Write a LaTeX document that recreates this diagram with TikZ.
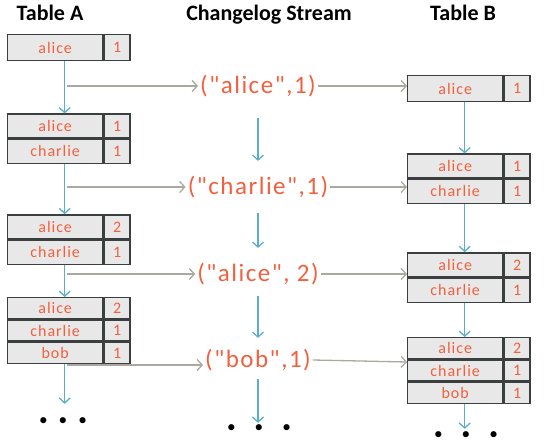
\documentclass[tikz,border=0pt]{standalone}
\usepackage{fontspec}
\setmainfont{Carlito}
\newfontfamily\logfont{Carlito}[Ligatures=TeXOff]
\usepackage{tikz}
\usetikzlibrary{arrows.meta, calc, positioning}
\definecolor{cellfill}{HTML}{E8E8E8}
\definecolor{cellline}{HTML}{3B3F40}
\definecolor{entry}{HTML}{F2603E}
\definecolor{linkblue}{HTML}{5AAEC8}
\definecolor{feedgray}{HTML}{A9A9A2}
\tikzstyle{title} = [font=\fontsize{22}{24}\selectfont\bfseries, text=black, anchor=base]
\tikzstyle{namecell} = [rectangle, draw=cellline, line width=1.4pt, fill=cellfill, minimum width=95pt, minimum height=24pt, inner sep=0pt, text=entry, font=\fontsize{16}{17}\selectfont\addfontfeature{LetterSpace=6}]
\tikzstyle{countcell} = [namecell, minimum width=26pt]
\tikzstyle{change} = [text=entry, font=\logfont\fontsize{25}{28}\selectfont\addfontfeature{LetterSpace=6}, inner sep=2pt]
\tikzstyle{link} = [draw=linkblue, line width=1.3pt, -{Straight Barb[length=5pt,width=11pt]}]
\tikzstyle{feed} = [draw=feedgray, line width=1.3pt, -{Straight Barb[length=5pt,width=11pt]}]
\tikzstyle{dots} = [font=\LARGE, inner sep=0pt]

\begin{document}
\begin{tikzpicture}[x=1pt, y=1pt]
		\useasboundingbox (0,0) rectangle (549,-444);
		\node (TitleA) [title] at (50,-21) {Table A};
		\node (TitleLog) [title] at (269,-21) {Changelog Stream};
		\node (TitleB) [title] at (463,-21) {Table B};

		% Table A
		\node (A1Row1) [namecell, anchor=north west, minimum height=26pt] at (7,-34) {alice};
		\node (A1Cnt1) [countcell, right = 0pt of A1Row1, minimum height=26pt] {1};
		\node (A2Row1) [namecell, below = 52pt of A1Row1] {alice};
		\node (A2Cnt1) [countcell, right = 0pt of A2Row1] {1};
		\node (A2Row2) [namecell, below = 0pt of A2Row1] {charlie};
		\node (A2Cnt2) [countcell, right = 0pt of A2Row2] {1};
		\node (A3Row1) [namecell, below = 50pt of A2Row2] {alice};
		\node (A3Cnt1) [countcell, right = 0pt of A3Row1] {2};
		\node (A3Row2) [namecell, below = 0pt of A3Row1] {charlie};
		\node (A3Cnt2) [countcell, right = 0pt of A3Row2] {1};
		\node (A4Row1) [namecell, below = 32pt of A3Row2, minimum height=21pt] {alice};
		\node (A4Cnt1) [countcell, right = 0pt of A4Row1, minimum height=21pt] {2};
		\node (A4Row2) [namecell, below = 0pt of A4Row1, minimum height=21pt] {charlie};
		\node (A4Cnt2) [countcell, right = 0pt of A4Row2, minimum height=21pt] {1};
		\node (A4Row3) [namecell, below = 0pt of A4Row2, minimum height=21pt] {bob};
		\node (A4Cnt3) [countcell, right = 0pt of A4Row3, minimum height=21pt] {1};
		\node (DotsA) [dots] at (63,-422) {\textbullet\hspace{11pt}\textbullet\hspace{11pt}\textbullet};
		\coordinate (LinkA) at ([xshift=9.5pt]A1Row1.south);

		% Changelog Stream
		\node (Change1) [change] at (258,-86) {("alice",1)};
		\node (Change2) [change, on grid, below = 101pt of Change1] {("charlie",1)};
		\node (Change3) [change, on grid, below = 87pt of Change2] {("alice", 2)};
		\node (Change4) [change, on grid, below = 86pt of Change3] {("bob",1)};
		\node (DotsC) [dots] at (259,-429) {\textbullet\hspace{19pt}\textbullet\hspace{19pt}\textbullet};

		% Table B
		\node (B1Row1) [namecell, anchor=north west, minimum height=26pt] at (407,-75) {alice};
		\node (B1Cnt1) [countcell, right = 0pt of B1Row1, minimum height=26pt] {1};
		\node (B2Row1) [namecell, below = 51pt of B1Row1] {alice};
		\node (B2Cnt1) [countcell, right = 0pt of B2Row1] {1};
		\node (B2Row2) [namecell, below = 0pt of B2Row1] {charlie};
		\node (B2Cnt2) [countcell, right = 0pt of B2Row2] {1};
		\node (B3Row1) [namecell, below = 48pt of B2Row2] {alice};
		\node (B3Cnt1) [countcell, right = 0pt of B3Row1] {2};
		\node (B3Row2) [namecell, below = 0pt of B3Row1] {charlie};
		\node (B3Cnt2) [countcell, right = 0pt of B3Row2] {1};
		\node (B4Row1) [namecell, below = 34pt of B3Row2, minimum height=21pt] {alice};
		\node (B4Cnt1) [countcell, right = 0pt of B4Row1, minimum height=21pt] {2};
		\node (B4Row2) [namecell, below = 0pt of B4Row1, minimum height=21pt] {charlie};
		\node (B4Cnt2) [countcell, right = 0pt of B4Row2, minimum height=21pt] {1};
		\node (B4Row3) [namecell, below = 0pt of B4Row2, minimum height=21pt] {bob};
		\node (B4Cnt3) [countcell, right = 0pt of B4Row3, minimum height=21pt] {1};
		\node (DotsB) [dots] at (466,-436) {\textbullet\hspace{19pt}\textbullet\hspace{19pt}\textbullet};

		% links down each column
		\draw [link] ([xshift=9.5pt]A1Row1.south) -- ([xshift=9.5pt]A2Row1.north);
		\draw [link] ([xshift=9.5pt]A2Row2.south) -- ([xshift=9.5pt]A3Row1.north);
		\draw [link] ([xshift=9.5pt]A3Row2.south) -- ([xshift=9.5pt]A4Row1.north);
		\draw [link, shorten >=14pt] ([xshift=9.5pt]A4Row3.south) -- ([xshift=9.5pt]A4Row3.south |- DotsA.north);
		\draw [link, shorten <=19pt, shorten >=13pt] (Change1) -- (Change2);
		\draw [link, shorten <=13pt, shorten >=13pt] (Change2) -- (Change3);
		\draw [link, shorten <=9pt, shorten >=9pt] (Change3) -- (Change4);
		\draw [link, shorten <=6pt, shorten >=2pt] (Change4) -- (Change4 |- DotsC.north);
		\draw [link] ([xshift=9.5pt]B1Row1.south) -- ([xshift=9.5pt]B2Row1.north);
		\draw [link] ([xshift=9.5pt]B2Row2.south) -- ([xshift=9.5pt]B3Row1.north);
		\draw [link] ([xshift=9.5pt]B3Row2.south) -- ([xshift=9.5pt]B4Row1.north);
		\draw [link, shorten >=3pt] ([xshift=9.5pt]B4Row3.south) -- ([xshift=9.5pt]B4Row3.south |- DotsB.north);

		% changes fed out of A and into B
		\draw [feed, shorten <=2pt] (Change1 -| LinkA) -- (Change1);
		\draw [feed, shorten <=2pt] (Change2 -| LinkA) -- (Change2);
		\draw [feed, shorten <=2pt] (Change3 -| LinkA) -- (Change3);
		\draw [feed, shorten <=2pt] ([yshift=-5pt]Change4 -| LinkA) -- ([yshift=-5pt]Change4.west);
		\draw [feed] (Change1.east) -- (Change1.east -| B1Row1.west);
		\draw [feed] (Change2.east) -- (Change2.east -| B2Row2.west);
		\draw [feed] (Change3.east) -- (Change3.east -| B3Row2.west);
		\draw [feed] (Change4.east) -- ([yshift=-2pt]Change4.east -| B4Row2.west);
\end{tikzpicture}
\end{document}
